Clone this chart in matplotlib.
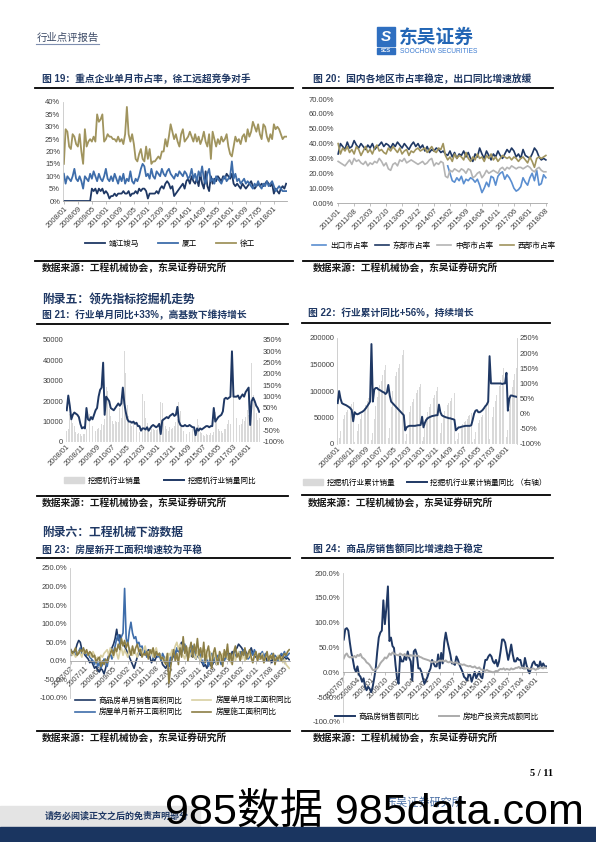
import matplotlib
matplotlib.use('Agg')
import matplotlib.pyplot as plt
import numpy as np
import pandas as pd
from matplotlib.lines import Line2D
from matplotlib.patches import Rectangle, Patch

plt.rcParams['font.family'] = ['Liberation Sans', 'Noto Sans CJK SC']
plt.rcParams['axes.unicode_minus'] = False

# ---------------- data ----------------
# fig 19: monthly market share (%), 2008/01 - 2018/08
m19 = pd.period_range('2008-01', periods=128, freq='M').strftime('%Y/%m')
jjjm = [0]*12 + [0, 0, 0, 0, 5, 4, 5, 3, 5, 4, 5, 3,
                 4, 3, 1, 2, 2, 3, 2, 3, 3, 3, 4, 3,
                 3, 4, 2, 3, 3, 4, 3, 5, 4, 5, 5, 4,
                 1, 3, 3, 3, 3, 4, 3, 5, 6, 5, 7, 8,
                 7, 5, 6, 2, 3, 4, 5, 6, 7, 5, 8, 9,
                 7, 10, 8, 7, 9, 6, 11, 7, 5, 12, 6, 4,
                 10, 7, 9, 8, 10, 9, 8, 10, 9, 11, 10, 9,
                 11, 7, 6, 7, 6, 5, 7, 6, 5, 6, 7, 8,
                 6, 5, 6, 7, 6, 7, 6, 7, 8, 7, 6, 7,
                 3, 5, 4, 3, 5, 6, 5, 7]
xiagong = [11, 7, 10, 9, 8, 10, 13, 9, 8, 10, 8, 5,
           10, 9, 8, 11, 9, 12, 10, 8, 11, 9, 8, 10,
           13, 9, 8, 10, 8, 11, 9, 7, 10, 8, 11, 7,
           9, 8, 12, 8, 7, 9, 8, 10, 13, 15, 14, 10,
           11, 9, 13, 10, 9, 12, 11, 10, 13, 11, 10, 12,
           13, 11, 10, 9, 11, 10, 12, 11, 10, 12, 11, 9,
           10, 13, 9, 11, 8, 12, 10, 14, 9, 7, 11, 13,
           8, 9, 7, 10, 9, 8, 7, 9, 10, 8, 9, 10,
           16, 9, 11, 8, 9, 7, 8, 9, 7, 8, 7, 6,
           5, 7, 6, 8, 6, 5, 7, 6, 8, 6, 7, 8,
           6, 4, 5, 6, 5, 4, 4, 4]
xugong = [15, 29, 28, 22, 21, 27, 26, 23, 22, 27, 20, 15,
          29, 22, 24, 25, 24, 26, 24, 35, 32, 33, 35, 24,
          25, 27, 26, 26, 25, 25, 24, 26, 24, 25, 23, 27,
          38, 27, 24, 27, 23, 17, 16, 19, 21, 17, 16, 22,
          17, 21, 15, 16, 16, 17, 18, 17, 20, 20, 25, 22,
          26, 31, 28, 25, 27, 24, 22, 27, 29, 24, 25, 26,
          28, 26, 24, 27, 24, 26, 23, 25, 28, 24, 22, 27,
          17, 28, 25, 22, 25, 23, 26, 24, 25, 27, 22, 19,
          18, 22, 26, 24, 25, 23, 26, 27, 24, 29, 26, 28,
          32, 30, 28, 31, 27, 25, 31, 30, 26, 24, 27, 25,
          31, 29, 30, 29, 27, 25, 26, 26]

# fig 20: regional share (%), 2011/01 - 2018/08
m20 = pd.period_range('2011-01', periods=92, freq='M').strftime('%Y/%m')
east = [33, 40, 38, 36, 41, 37, 38, 42, 39, 37, 40, 38,
        36, 39, 37, 40, 36, 38, 39, 41, 38, 40, 39, 37,
        40, 38, 41, 39, 37, 40, 38, 36, 39, 41, 38, 40,
        37, 39, 35, 38, 34, 36, 35, 37, 36, 34, 35, 33,
        32, 35, 31, 34, 30, 33, 32, 35, 31, 34, 30, 28,
        33, 31, 37, 33, 30, 35, 32, 29, 33, 31, 35, 32,
        30, 33, 36, 34, 37, 35, 31, 33, 30, 36, 32, 31,
        30, 33, 37, 35, 31, 29, 30, 29]
west = [40, 33, 37, 35, 38, 34, 36, 33, 38, 36, 32, 35,
        38, 34, 36, 33, 37, 39, 35, 36, 34, 33, 37, 35,
        38, 36, 34, 37, 33, 35, 36, 32, 35, 34, 36, 37,
        35, 36, 37, 34, 36, 38, 35, 34, 37, 36, 40, 32,
        29, 31, 28, 33, 30, 32, 31, 29, 34, 30, 28, 31,
        29, 33, 30, 31, 28, 32, 30, 33, 29, 31, 28, 30,
        32, 31, 30, 31, 29, 31, 30, 28, 30, 31, 29, 27,
        31, 28, 24, 30, 31, 30, 31, 32]
central = [28, 27, 26, 25, 27, 29, 26, 30, 28, 29, 27, 26,
           28, 25, 27, 26, 28, 27, 30, 28, 25, 27, 23, 22,
           26, 27, 25, 29, 28, 30, 27, 28, 29, 28, 27, 26,
           27, 28, 26, 27, 29, 30, 25, 27, 26, 28, 27, 18,
           17, 22, 21, 23, 22, 21, 23, 22, 20, 23, 22, 17,
           18, 20, 21, 17, 19, 22, 20, 21, 22, 21, 20, 23,
           24, 22, 24, 23, 25, 24, 23, 24, 24, 23, 24, 25,
           24, 22, 21, 23, 24, 22, 21, 21]
export = [np.nan]*48 + [25, 20, 15, 14, 17, 15, 18, 13, 16, 15, 17, 16,
                        14, 16, 12, 7, 10, 14, 11, 18, 17, 12, 18, 20,
                        21, 16, 19, 17, 14, 10, 8, 9, 11, 17, 14, 12,
                        17, 20, 15, 22, 12, 13, 19, 17]

# fig 21 / 22: excavator sales, 2008/01 - 2018/08
m21 = pd.period_range('2008-01', periods=128, freq='M').strftime('%Y/%m')
sales = [5500, 6300, 13600, 12900, 9100, 7600, 5000, 3900, 4300, 4100, 3100, 4000,
         3900, 6400, 14600, 13500, 9500, 7900, 5900, 5500, 6600, 6800, 5800, 8700,
         8400, 11500, 26800, 24800, 16400, 12800, 10100, 8900, 10200, 9900, 9800, 16800,
         11800, 23000, 44600, 33600, 18200, 12700, 9400, 7900, 9300, 8700, 8500, 10400,
         5000, 16000, 23400, 20000, 11800, 9100, 6200, 5000, 6400, 6400, 6100, 6100,
         6500, 7900, 19600, 19300, 10800, 8000, 6200, 5400, 7300, 6600, 6900, 7800,
         9800, 11300, 19500, 15300, 8200, 5500, 4700, 4100, 5300, 5100, 4900, 6300,
         4900, 5500, 11500, 8200, 5000, 4400, 3500, 2800, 3800, 3600, 3600, 4400,
         3400, 5100, 14600, 10800, 6200, 5500, 5400, 4300, 6500, 6500, 8600, 11000,
         8900, 13400, 29300, 18800, 11900, 10500, 8400, 8700, 11500, 10500, 12400, 15800,
         13100, 14400, 38600, 22800, 18600, 14300, 10600, 11600]
sales_yoy = [40, 105, 60, 0, 20, 30, 25, 20, 10, -20, -40, -35,
             -40, 50, 0, -5, 10, 0, 20, 40, 50, 100, 130, 140,
             250, 20, 100, 90, 80, 50, 45, 40, 50, 60, 70, 60,
             70, 140, 70, 30, 0, -10, -10, -15, -10, -20, -15, -30,
             -30, -50, -40, -40, -45, -35, -50, -40, -30, -25, -30, -35,
             -30, -20, -65, -5, 0, 5, 10, 5, 15, 20, 25, 15,
             20, 55, -10, -25, -30, -30, -25, -30, -30, -25, -30, -35,
             -35, -70, -40, -50, -40, -45, -40, -35, -30, -30, -35, -30,
             -30, 50, -10, 0, 10, 15, 20, 35, 90, 95, 90, 95,
             100, 300, 100, 100, 100, 105, 90, 100, 110, 100, 120, 130,
             140, -25, 80, 95, 80, 60, 50, 33]
cum_sales = [5500, 11800, 25400, 38300, 47400, 55000, 60000, 64000, 68300, 72400, 75500, 79500,
             3900, 10300, 24900, 38400, 47900, 55800, 61700, 67200, 73800, 80600, 86400, 95000,
             8400, 19900, 46700, 71500, 87900, 100700, 110800, 119700, 129900, 139800, 149600, 166400,
             11800, 30000, 70000, 100000, 117000, 128000, 136000, 143000, 151000, 159000, 167000, 178000,
             5000, 19000, 41000, 60000, 71000, 79000, 85000, 90000, 96000, 102000, 108000, 114000,
             6500, 14000, 33000, 51000, 61000, 69000, 75000, 80000, 87000, 93000, 100000, 108000,
             9800, 21000, 40000, 55000, 63000, 68000, 73000, 77000, 82000, 87000, 91000, 97000,
             4900, 10000, 21000, 29000, 34000, 38000, 42000, 44000, 48000, 52000, 55000, 59000,
             3400, 8500, 23000, 34000, 40000, 46000, 51000, 55000, 62000, 68000, 77000, 88000,
             8900, 22000, 51000, 70000, 82000, 92000, 100000, 109000, 120000, 131000, 143000, 159000,
             13000, 27000, 66000, 88000, 107000, 121000, 132000, 143000]
cum_yoy = [35, 75, 50, 35, 32, 30, 28, 25, 22, 18, 12, -25,
           5, 0, -2, 0, 3, 5, 8, 12, 18, 25, 32, 40,
           230, 40, 80, 85, 85, 80, 78, 75, 72, 70, 65, 70,
           95, 60, 40, 35, 30, 25, 20, 15, 10, 5, 0, -5,
           -55, -45, -42, -40, -40, -40, -40, -40, -39, -38, -38, -37,
           -10, -45, -30, -20, -15, -12, -10, -8, -7, -6, -5, -5,
           30, 5, -5, -8, -10, -12, -13, -15, -15, -17, -18, -20,
           -55, -50, -45, -45, -43, -42, -41, -40, -40, -40, -40, -38,
           -20, 0, 10, 12, 5, 5, 8, 12, 18, 25, 30, 40,
           190, 100, 100, 100, 100, 100, 100, 100, 100, 98, 100, 100,
           135, 10, 50, 60, 60, 58, 57, 56]

# fig 23: housing YoY (%), 2007/02 - 2018/08
m23 = pd.period_range('2007-02', periods=139, freq='M').strftime('%Y/%m')
sold_area = [15, 25, 20, 30, 45, 55, 50, 30, 25, 15, 10,
             5, -5, 0, -10, -20, -15, -25, -30, -20, -25, -35, -20,
             0, 15, 25, 35, 45, 60, 85, 55, 70, 50, 45, 40,
             30, 20, 10, 0, -10, -20, -5, 10, 25, 15, 30, 20,
             25, 15, 30, 10, -5, 5, 0, 10, 15, 20, 5, -10,
             -15, -20, -10, -15, -5, 5, 15, 20, 30, 25, 40, 50,
             45, 30, 35, 20, 25, 15, 10, 20, 5, 15, 10, 0,
             -5, -15, -10, -20, -5, -10, -15, -5, 0, -10, 5, 10,
             -5, 0, 10, 15, 5, 20, 10, 25, 15, 30, 35, 45,
             40, 35, 25, 30, 20, 15, 25, 35, 20, 15, 10, 5,
             15, 20, 10, 5, 15, 0, 10, 5, -5, 10, 0, 5,
             10, 5, 15, 0, 10, 5, 8, 3]
new_start = [30, 20, 25, 15, 20, 25, 35, 20, 30, 25, 15,
             20, 10, 5, 0, -10, 5, -15, -5, -20, -10, 5, 0,
             -15, 10, 20, 5, 25, 40, 60, 70, 45, 65, 75, 195,
             60, 45, 80, 104, 75, 60, 65, 45, 50, 35, 40, 20,
             30, 10, 25, 15, 30, 5, 20, 25, 10, 15, 0, 20,
             10, -5, 0, -15, 10, 5, 20, 15, 35, 25, 40, 20,
             30, 45, 20, 10, 35, 15, 40, 25, 5, 20, 30, 10,
             0, -10, 15, 5, -15, 10, 20, -5, 10, 0, 15, 5,
             -10, 5, 0, 10, 20, 5, 15, 0, 25, 10, 20, 15,
             25, 10, 30, 15, 20, 5, 10, 25, 15, 30, 20, 10,
             5, 15, 25, 10, 20, 15, 0, 10, 20, 5, 15, 10,
             0, 10, 20, 15, 25, 10, 15, 20]
completed = [25, 15, 20, 10, 15, 25, 20, 10, 30, 20, 25,
             15, 20, 10, 25, 15, 5, 10, 0, 15, 10, 20, 25,
             30, 15, 35, 25, 10, 30, 20, 5, 25, 35, 15, 30,
             20, 10, 35, 25, 15, 30, 20, 10, 25, 35, 15, 30,
             40, 20, 25, 15, 30, 10, 25, 35, 15, 20, 10, 5,
             -5, 10, 0, 20, 15, 30, 25, 40, 50, 30, 45, 20,
             15, 5, 25, 35, 10, 20, 30, 15, 5, 25, 10, 0,
             20, 10, 30, 5, 15, 25, 0, 10, 20, -10, 5, 15,
             0, 20, 10, 25, 5, 15, -5, 10, 20, 0, 15, 25,
             10, 5, 20, 0, 15, 10, 25, 5, -5, 15, 20, 0,
             10, 5, 20, -5, 10, 15, 0, 5, 15, 10, -5, 5,
             15, 0, 10, -5, 5, -10, -15, -20]
under_constr = [30, 20, 25, 35, 15, 20, 30, 25, 35, 20, 30,
                15, 25, 20, 10, 15, -5, 5, 10, -15, 0, -10, 5,
                -5, 10, 20, 30, 15, 35, 25, 45, 30, 60, 40, 55,
                35, 50, 30, 15, 40, 20, 35, 45, 25, 30, 10, 20,
                15, 25, 5, 30, 20, 35, 10, 25, 15, 20, 5, 10,
                0, -10, 20, -60, -20, 10, 30, 0, 20, -10, 35, 10,
                65, 20, 40, 0, 30, 50, 10, 45, 20, 60, 15, 35,
                10, 50, -5, 25, 40, 5, -20, 20, 35, 10, -10, 25,
                15, -15, 30, 10, 45, 0, 20, -10, 25, 40, 10, 20,
                0, 25, 15, 35, 5, 20, 30, 10, -5, 15, 25, 0,
                20, 5, 15, -5, 10, 25, 0, 15, 5, 20, -10, 10,
                5, 15, 0, 10, 20, 15, 25, 30]

# fig 24: sales value / investment YoY (%), 2007/07 - 2018/08
m24 = pd.period_range('2007-07', periods=134, freq='M').strftime('%Y/%m')
sales_value = [66, 87, 89, 84, 60, 39,
               25, 8, 1, 12, -5, -9, -19, -12, -29, -36, -29, -33,
               -40, -29, -12, 8, 42, 70, 80, 84, 145, 97, 130, 173,
               63, 70, 53, 49, 15, -12, -23, 32, 22, 22, 32, 25,
               42, 29, 22, -16, 42, 46, 36, 8, 8, 1, -12, -23,
               -16, -9, 1, 8, 25, 18, 12, 12, 36, 8, 39, 18,
               60, 80, 63, 49, 36, 18, 18, 15, 32, 25, 15, 8,
               1, -9, -12, -16, -5, -5, -19, -9, 1, -12, -5, 1,
               -9, -12, 8, 25, 25, 32, 36, 32, 22, 18, 25, 12,
               22, 42, 66, 66, 60, 42, 25, 39, 56, 36, 22, 22,
               29, 25, 25, 12, 8, 29, 15, 5, -2, 8, 18, 22,
               15, 15, 8, 22, 12, 18, 12, 12]
invest = [28, 35, 38, 32, 30, 31,
          30, 33, 30, 35, 33, 37, 30, 28, 25, 20, 18, 15,
          10, 5, 4, 6, 8, 12, 18, 22, 25, 30, 28, 32,
          38, 35, 40, 38, 36, 35, 34, 38, 36, 34, 37, 33,
          34, 32, 35, 33, 34, 32, 34, 33, 31, 30, 28, 27,
          26, 25, 24, 22, 20, 22, 21, 20, 22, 24, 23, 24,
          22, 24, 21, 20, 22, 20, 19, 20, 19, 18, 17, 16,
          15, 16, 14, 13, 12, 13, 11, 10, 12, 9, 8, 10,
          6, 5, 4, 3, 5, 3, 2, 1, 0, 1, 3, 2,
          5, 7, 6, 8, 5, 7, 6, 5, 8, 6, 7, 9,
          9, 11, 8, 10, 9, 7, 9, 8, 7, 6, 8, 7,
          5, 7, 8, 10, 9, 8, 10, 9]

NAVY = '#1F3864'
BLUE = '#3E6DAA'
OLIVE = '#A0945E'
LBLUE = '#5A8ED0'
GRAY = '#B4B4B4'
BARG = '#D9D9D9'
TITLE_C = '#1F3864'

W, H = 596, 842
fig = plt.figure(figsize=(W / 100, H / 100), dpi=100)


def rect(x0, y0, x1, y1):
    return [x0 / W, 1 - y1 / H, (x1 - x0) / W, (y1 - y0) / H]


def ftext(x, y, s, **kw):
    kw.setdefault('va', 'center')
    fig.text(x / W, 1 - y / H, s, **kw)


def hline(x0, x1, y, color='black', lw=1.3):
    fig.add_artist(Line2D([x0 / W, x1 / W], [1 - y / H, 1 - y / H],
                          color=color, lw=lw, transform=fig.transFigure))


def style(ax, labels, step, left=True, zero_axis=False):
    if zero_axis:
        ax.spines['bottom'].set_position(('data', 0))
    for s in ['top', 'right']:
        ax.spines[s].set_visible(False)
    ax.spines['left'].set_visible(left)
    ax.spines['left'].set_color('#C8C8C8')
    ax.spines['left'].set_linewidth(0.6)
    ax.spines['bottom'].set_color('#A6A6A6')
    ax.spines['bottom'].set_linewidth(0.6)
    ax.tick_params(axis='y', length=0, labelsize=5.5, labelcolor='#404040', pad=2)
    ax.tick_params(axis='x', length=2, width=0.5, color='#A6A6A6', labelsize=5.5,
                   labelcolor='#404040', pad=1)
    idx = list(range(0, len(labels), step))
    ax.set_xticks(idx)
    ax.set_xticklabels([labels[i] for i in idx], rotation=45, ha='right',
                       rotation_mode='anchor')
    ax.set_xlim(-0.5, len(labels) - 0.5)


def legend(ax, handles, labels, xc, yc, ncol, loc='center', **kw):
    kw.setdefault('handlelength', 2.6)
    ax.legend(handles, labels, loc=loc, bbox_to_anchor=(xc / W, 1 - yc / H),
              bbox_transform=fig.transFigure, ncol=ncol, frameon=False,
              fontsize=5.5, handletextpad=0.5, **kw)


def pct(fmt):
    return lambda v, p: fmt.format(v)


# ---------------- header ----------------
ftext(37, 38, '行业点评报告', fontsize=7.5, color='#3C4A66')
hline(36, 99, 44, color='#7F8FB0', lw=0.8)
fig.add_artist(Rectangle((377 / W, 1 - 46 / H), 18 / W, 19 / H, color='#2F6FC0',
                         transform=fig.transFigure))
ftext(386, 37, 'S', fontsize=11, color='white', weight='bold', style='italic', ha='center')
fig.add_artist(Rectangle((377 / W, 1 - 54 / H), 18 / W, 6 / H, color='#2F6FC0',
                         transform=fig.transFigure))
ftext(386, 51, 'SCS', fontsize=3.5, color='white', weight='bold', ha='center')
ftext(399, 38, '东吴证券', fontsize=13.5, color='#2366B5', weight='bold')
ftext(400, 51.5, 'SOOCHOW SECURITIES', fontsize=4.8, color='#3C7BD0')

# ---------------- titles and rules ----------------
tkw = dict(fontsize=7, color=TITLE_C, weight='bold')
skw = dict(fontsize=7, color='#1A1A1A', weight='bold')
src = '数据来源：工程机械协会，东吴证券研究所'
ftext(42, 79, '图 19：重点企业单月市占率，徐工远超竞争对手', **tkw)
ftext(313, 79, '图 20：国内各地区市占率稳定，出口同比增速放缓', **tkw)
hline(35, 293, 88)
hline(303, 553, 88)
hline(35, 293, 261)
hline(303, 553, 261)
ftext(42, 268, src, **skw)
ftext(313, 268, src, **skw)

ftext(42, 300, '附录五：领先指标挖掘机走势', fontsize=8.5, color=TITLE_C, weight='bold')
ftext(42, 315, '图 21：行业单月同比+33%，高基数下维持增长', **tkw)
ftext(308, 313, '图 22：行业累计同比+56%，持续增长', **tkw)
hline(37, 288, 324)
hline(302, 550, 323)
hline(37, 288, 496)
hline(302, 550, 495)
ftext(42, 503, src, **skw)
ftext(308, 503, src, **skw)

ftext(42, 533, '附录六：工程机械下游数据', fontsize=8.5, color=TITLE_C, weight='bold')
ftext(42, 550, '图 23：房屋新开工面积增速较为平稳', **tkw)
ftext(313, 549, '图 24：商品房销售额同比增速趋于稳定', **tkw)
hline(37, 290, 558)
hline(302, 553, 558)
hline(37, 290, 731)
hline(302, 553, 731)
ftext(42, 738, src, **skw)
ftext(313, 738, src, **skw)

# ---------------- fig 19 ----------------
ax = fig.add_axes(rect(63, 102, 287, 201))
x = np.arange(len(m19))
l1, = ax.plot(x, jjjm, color=NAVY, lw=1.3)
l2, = ax.plot(x, xiagong, color=BLUE, lw=1.3)
l3, = ax.plot(x, xugong, color=OLIVE, lw=1.3)
ax.set_ylim(0, 40)
ax.set_yticks(range(0, 41, 5))
ax.yaxis.set_major_formatter(pct('{:.0f}%'))
style(ax, m19, 8)
legend(ax, [l1, l2, l3], ['靖江竣马', '厦工', '徐工'], 170, 244, 3, columnspacing=2.5)

# ---------------- fig 20 ----------------
ax = fig.add_axes(rect(337, 99, 547, 203))
x = np.arange(len(m20))
h1, = ax.plot(x, export, color=LBLUE, lw=1.2)
h2, = ax.plot(x, east, color=NAVY, lw=1.2)
h3, = ax.plot(x, central, color=GRAY, lw=1.2)
h4, = ax.plot(x, west, color=OLIVE, lw=1.2)
ax.set_ylim(0, 70)
ax.set_yticks(range(0, 71, 10))
ax.yaxis.set_major_formatter(pct('{:.2f}%'))
style(ax, m20, 7, left=False)
legend(ax, [h1, h2, h3, h4], ['出口市占率', '东部市占率', '中部市占率', '西部市占率'],
       434, 246, 4, columnspacing=0.9, handlelength=1.8)

# ---------------- fig 21 ----------------
ax = fig.add_axes(rect(66, 340, 260, 442))
x = np.arange(len(m21))
ax.bar(x, sales, width=0.6, color=BARG)
ax.set_ylim(0, 50000)
ax.set_yticks(range(0, 50001, 10000))
style(ax, m21, 10, left=False)
ax.spines['bottom'].set_visible(False)
ax.tick_params(axis='x', length=0)
ax2 = ax.twinx()
ln, = ax2.plot(x, sales_yoy, color=NAVY, lw=1.4)
ax2.set_ylim(-100, 350)
ax2.set_yticks(range(-100, 351, 50))
ax2.yaxis.set_major_formatter(pct('{:.0f}%'))
for s in ax2.spines.values():
    s.set_visible(False)
ax2.tick_params(axis='y', length=0, labelsize=5.5, labelcolor='#404040', pad=2)
legend(ax, [Patch(color=BARG), ln], ['挖掘机行业销量', '挖掘机行业销量同比'],
       160, 481, 2, columnspacing=3)

# ---------------- fig 22 ----------------
ax = fig.add_axes(rect(337, 338, 517, 444))
x = np.arange(len(m21))
ax.bar(x, cum_sales, width=0.6, color=BARG)
ax.set_ylim(0, 200000)
ax.set_yticks(range(0, 200001, 50000))
style(ax, m21, 10)
ax.spines['bottom'].set_visible(False)
ax.tick_params(axis='x', length=0)
ax2 = ax.twinx()
ln2, = ax2.plot(x, cum_yoy, color=NAVY, lw=1.4)
ax2.set_ylim(-100, 250)
ax2.set_yticks(range(-100, 251, 50))
ax2.yaxis.set_major_formatter(pct('{:.0f}%'))
for k, s in ax2.spines.items():
    s.set_visible(k == 'right')
ax2.spines['right'].set_color('#C8C8C8')
ax2.spines['right'].set_linewidth(0.6)
ax2.tick_params(axis='y', length=0, labelsize=5.5, labelcolor='#404040', pad=2)
legend(ax, [Patch(color=BARG), ln2], ['挖掘机行业累计销量', '挖掘机行业累计销量同比 （右轴）'],
       425, 483, 2, columnspacing=1.5)

# ---------------- fig 23 ----------------
ax = fig.add_axes(rect(70, 568, 290, 698))
x = np.arange(len(m23))
g1, = ax.plot(x, sold_area, color=NAVY, lw=1.2)
g2, = ax.plot(x, new_start, color=BLUE, lw=1.2)
g3, = ax.plot(x, completed, color='#D8CFA2', lw=1.2)
g4, = ax.plot(x, under_constr, color='#8C7E45', lw=1.2)
ax.set_ylim(-100, 250)
ax.set_yticks(range(-100, 251, 50))
ax.yaxis.set_major_formatter(pct('{:.1f}%'))
style(ax, m23, 9, zero_axis=True)
legend(ax, [g1, g2, g3, g4],
       ['商品房单月销售面积同比', '房屋单月新开工面积同比', '房屋单月竣工面积同比', '房屋施工面积同比'],
       68, 707, 2, loc='center left', columnspacing=1.2)

# ---------------- fig 24 ----------------
ax = fig.add_axes(rect(343, 573, 547, 722))
x = np.arange(len(m24))
k1, = ax.plot(x, sales_value, color=NAVY, lw=1.4)
k2, = ax.plot(x, invest, color='#ABABAB', lw=1.4)
ax.set_ylim(-100, 200)
ax.set_yticks(range(-100, 201, 50))
ax.yaxis.set_major_formatter(pct('{:.1f}%'))
style(ax, m24, 9, zero_axis=True)
legend(ax, [k1, k2], ['商品房销售额同比', '房地产投资完成额同比'], 437, 717, 2, columnspacing=2.5)

# ---------------- footer ----------------
ftext(542, 773, '5 / 11', fontsize=7.5, weight='bold', ha='center', family='Liberation Serif')
fig.add_artist(Rectangle((0, 1 - 828 / H), 200 / W, 22 / H, color='#E4E4E4',
                         transform=fig.transFigure))
fig.add_artist(Rectangle((0, 0), 1, 15 / H, color='#1A3560', transform=fig.transFigure))
ftext(45, 816, '请务必阅读正文之后的免责声明部分', fontsize=6.5, color='#1F3864', weight='bold')
ftext(385, 802, '东吴证券研究所', fontsize=8, color='#4A6FA5')
ftext(165, 812, '985数据 985data.com', fontsize=31, color='black')

fig.savefig('out.png', dpi=100)
